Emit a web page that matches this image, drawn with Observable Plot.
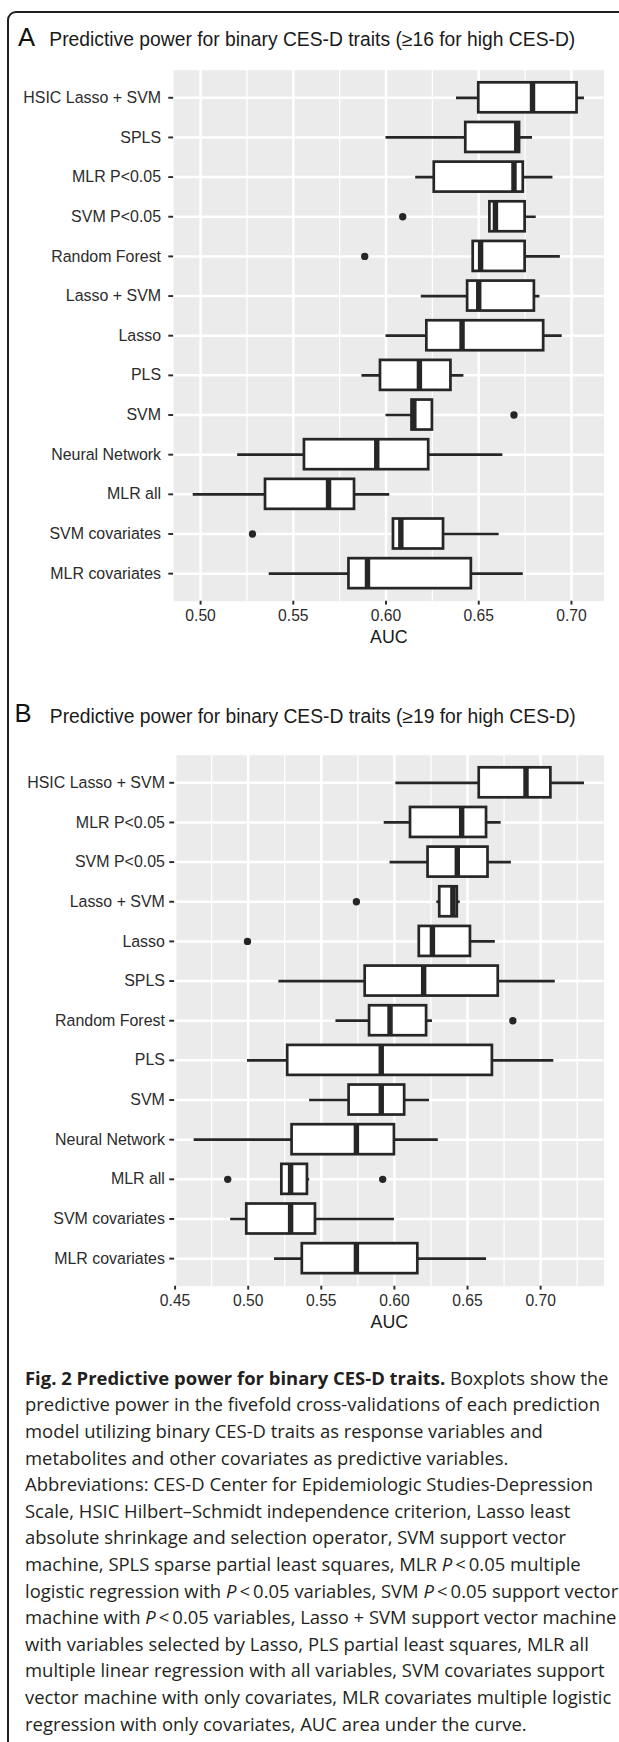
<!DOCTYPE html>
<html><head><meta charset="utf-8">
<script src="https://cdn.jsdelivr.net/npm/d3@7"></script>
<script src="https://cdn.jsdelivr.net/npm/@observablehq/plot@0.6"></script>
<style>
html,body{margin:0;padding:0;overflow:hidden;background:#fff;width:619px;height:1742px;}
#wrap{position:relative;width:619px;height:1742px;overflow:hidden;}
.frame{position:absolute;left:7px;top:10.5px;width:900px;height:2000px;border:2.6px solid #231f20;border-radius:9px;box-sizing:border-box;}
.lab{position:absolute;font-family:"Liberation Sans",Arial,sans-serif;line-height:1;white-space:nowrap;color:#1a1a1a;}
.panel{position:absolute;left:0;}
#caption{position:absolute;left:25px;top:1364.9px;font-family:"Open Sans",sans-serif;font-size:17.6px;color:#231f20;transform-origin:0 0;}
#caption div{height:26.6px;line-height:26.6px;white-space:nowrap;}
#caption span.l{display:inline-block;}
</style></head>
<body><div id="wrap">
<div class="frame"></div>
<div class="lab" style="left:18px;top:25px;font-size:25.6px;color:#111">A</div>
<div class="lab" id="tA" style="left:49.3px;top:29.7px;font-size:19.3px">Predictive power for binary CES-D traits (≥16 for high CES-D)</div>
<div class="panel" id="pA" style="top:62px"></div>
<div class="lab" style="left:14.5px;top:701.3px;font-size:25.6px;color:#111">B</div>
<div class="lab" id="tB" style="left:49.8px;top:706.7px;font-size:19.3px">Predictive power for binary CES-D traits (≥19 for high CES-D)</div>
<div class="panel" id="pB" style="top:747px"></div>
<div id="caption">
<div><span class="l"><b>Fig. 2 Predictive power for binary CES-D traits.</b> Boxplots show the</span></div>
<div><span class="l">predictive power in the fivefold cross-validations of each prediction</span></div>
<div><span class="l">model utilizing binary CES-D traits as response variables and</span></div>
<div><span class="l">metabolites and other covariates as predictive variables.</span></div>
<div><span class="l" id="refLine">Abbreviations: CES-D Center for Epidemiologic Studies-Depression</span></div>
<div><span class="l">Scale, HSIC Hilbert–Schmidt independence criterion, Lasso least</span></div>
<div><span class="l">absolute shrinkage and selection operator, SVM support vector</span></div>
<div><span class="l">machine, SPLS sparse partial least squares, MLR <i>P</i>&thinsp;&lt;&thinsp;0.05 multiple</span></div>
<div><span class="l">logistic regression with <i>P</i>&thinsp;&lt;&thinsp;0.05 variables, SVM <i>P</i>&thinsp;&lt;&thinsp;0.05 support vector</span></div>
<div><span class="l">machine with <i>P</i>&thinsp;&lt;&thinsp;0.05 variables, Lasso + SVM support vector machine</span></div>
<div><span class="l">with variables selected by Lasso, PLS partial least squares, MLR all</span></div>
<div><span class="l">multiple linear regression with all variables, SVM covariates support</span></div>
<div><span class="l">vector machine with only covariates, MLR covariates multiple logistic</span></div>
<div><span class="l">regression with only covariates, AUC area under the curve.</span></div>
</div>
</div>
<script>
// ---------- Panel A data (>=16 for high CES-D) ----------
const modelsA = ["HSIC Lasso + SVM","SPLS","MLR P<0.05","SVM P<0.05","Random Forest","Lasso + SVM","Lasso","PLS","SVM","Neural Network","MLR all","SVM covariates","MLR covariates"];
const lowA  = [0.638,0.600,0.616,0.656,0.647,0.619,0.600,0.587,0.600,0.520,0.496,0.604,0.537];
const q1A   = [0.650,0.643,0.626,0.656,0.647,0.644,0.622,0.597,0.614,0.556,0.535,0.604,0.580];
const medA  = [0.679,0.6705,0.669,0.659,0.651,0.650,0.641,0.618,0.615,0.595,0.569,0.608,0.590];
const q3A   = [0.703,0.672,0.674,0.675,0.675,0.680,0.685,0.635,0.625,0.623,0.583,0.631,0.646];
const highA = [0.707,0.679,0.690,0.681,0.694,0.683,0.695,0.642,0.625,0.663,0.602,0.661,0.674];
const outModelsA = ["SVM P<0.05","Random Forest","SVM","SVM covariates"];
const outValuesA = [0.609,0.5885,0.669,0.528];
const ticksA = [0.50,0.55,0.60,0.65,0.70];

// ---------- Panel B data (>=19 for high CES-D) ----------
const modelsB = ["HSIC Lasso + SVM","MLR P<0.05","SVM P<0.05","Lasso + SVM","Lasso","SPLS","Random Forest","PLS","SVM","Neural Network","MLR all","SVM covariates","MLR covariates"];
const lowB  = [0.601,0.593,0.597,0.629,0.617,0.521,0.560,0.4995,0.542,0.463,0.523,0.488,0.518];
const q1B   = [0.658,0.611,0.623,0.631,0.617,0.580,0.583,0.527,0.569,0.530,0.523,0.499,0.537];
const medB  = [0.690,0.646,0.643,0.640,0.626,0.620,0.597,0.591,0.591,0.574,0.529,0.529,0.574];
const q3B   = [0.707,0.663,0.664,0.643,0.652,0.671,0.622,0.667,0.607,0.600,0.5405,0.546,0.616];
const highB = [0.730,0.673,0.680,0.645,0.669,0.710,0.626,0.709,0.624,0.630,0.542,0.600,0.663];
const outModelsB = ["Lasso + SVM","Lasso","Random Forest","MLR all","MLR all"];
const outValuesB = [0.574,0.4995,0.681,0.486,0.592];
const ticksB = [0.45,0.50,0.55,0.60,0.65,0.70];

const INK = "#262626";

function panel(models, lo, q1, med, q3, hi, outModels, outValues, ticks, marginLeft, tickPad) {
  const rows = models.map((m, i) => ({model: m, lo: lo[i], q1: q1[i], med: med[i], q3: q3[i], hi: hi[i]}));
  const outs = outModels.map((m, i) => ({model: m, v: outValues[i]}));
  const [mn, mx] = d3.extent([...lo, ...hi, ...outValues]);
  const pad = (mx - mn) * 0.05;
  const domain = [mn - pad, mx + pad];
  const minor = [];
  ticks.forEach(t => { [t - 0.025, t + 0.025].forEach(m => { if (m > domain[0] && m < domain[1] && !minor.some(q => Math.abs(q - m) < 1e-9)) minor.push(m); }); });
  return Plot.plot({
    width: 640, height: 8 + 549 + 60,
    marginTop: 8, marginBottom: 60, marginLeft, marginRight: 16,
    x: {domain, label: null},
    y: {type: "band", domain: models, paddingInner: 0.25, paddingOuter: 0.225, label: null},
    style: {fontFamily: "'Liberation Sans', Arial, sans-serif", fontSize: "16.5px", color: "#2b2b2b", background: "transparent", overflow: "visible"},
    marks: [
      Plot.frame({fill: "#ebebeb", stroke: null}),
      Plot.gridX(minor, {stroke: "white", strokeOpacity: 1, strokeWidth: 1.3}),
      Plot.gridX(ticks, {stroke: "white", strokeOpacity: 1, strokeWidth: 2.6}),
      Plot.gridY(models, {stroke: "white", strokeOpacity: 1, strokeWidth: 2.6}),
      Plot.ruleY(rows, {y: "model", x1: "lo", x2: "hi", stroke: INK, strokeWidth: 2.8}),
      Plot.barX(rows, {y: "model", x1: "q1", x2: "q3", fill: "white", stroke: INK, strokeWidth: 2.8}),
      Plot.tickX(rows, {y: "model", x: "med", stroke: INK, strokeWidth: 5.6}),
      Plot.dot(outs, {y: "model", x: "v", r: 3.8, fill: INK, stroke: null}),
      Plot.axisY(models, {tickSize: 5, tickPadding: tickPad, strokeWidth: 2, label: null, fontSize: 16.5}),
      Plot.axisX(ticks, {tickSize: 4, tickPadding: 5, strokeWidth: 2, label: null, fontSize: 16.2, tickFormat: d3.format(".2f")}),
      Plot.text(["AUC"], {text: d => d, frameAnchor: "bottom", lineAnchor: "bottom", dy: 42.7, fontSize: 18.4, fill: "#1a1a1a"})
    ]
  });
}

document.getElementById("pA").appendChild(panel(modelsA, lowA, q1A, medA, q3A, highA, outModelsA, outValuesA, ticksA, 179, 8));
document.getElementById("pB").appendChild(panel(modelsB, lowB, q1B, medB, q3B, highB, outModelsB, outValuesB, ticksB, 180, 5));

// fit caption width to the reference measure of one line
const ref = document.getElementById("refLine");
const w = ref.getBoundingClientRect().width;
const k = 568 / w;
document.getElementById("caption").style.transform = `scaleX(${k})`;
</script>
</body></html>
